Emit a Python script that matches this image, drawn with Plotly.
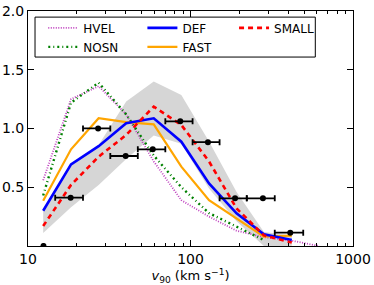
import plotly.graph_objects as go

# model grid (km/s)
v_grid = [12.4, 18.4, 27.2, 40.2, 59.4, 87.8, 130, 192, 283, 420]
v_hvel = [12.4, 18.4, 27.2, 40.2, 59.4, 87.8, 130, 192, 283, 420, 620]

hvel = [0.56, 1.25, 1.36, 1.12, 0.72, 0.39, 0.25, 0.13, 0.075, 0.045, 0.0]
nosn = [0.43, 1.22, 1.39, 1.12, 0.77, 0.50, 0.28, 0.165, 0.05]
def_ = [0.30, 0.695, 0.85, 1.044, 1.087, 0.888, 0.533, 0.278, 0.10, 0.051]
fast = [0.386, 0.823, 1.087, 1.055, 1.035, 0.675, 0.39, 0.236, 0.08, 0.088]
small = [0.17, 0.52, 0.76, 0.945, 1.186, 1.03, 0.72, 0.32, 0.09, 0.03]

band_upper = [0.30, 0.69, 0.86, 1.23, 1.40, 1.285, 0.89, 0.46, 0.12, 0.09]
band_lower = [0.11, 0.33, 0.52, 0.74, 0.94, 0.87, 0.49, 0.21, 0.0, 0.0]

# observations (first point sits on the axis, drawn without bar)
obs_v = [12.45, 18.3, 27.0, 39.9, 58.6, 86.5, 128, 188, 279, 411]
obs_y = [0.0, 0.411, 1.001, 0.766, 0.823, 1.061, 0.884, 0.406, 0.406, 0.113]
obs_lo = [12.45, 14.7, 21.8, 32.1, 47.4, 70.0, 103, 151, 222, 330]
obs_hi = [12.45, 21.8, 32.1, 47.4, 70.0, 103, 151, 222, 330, 494]

x_ticks = [10, 100, 1000]
x_ticklabels = ["10", "100", "1000"]
y_ticks = [0.5, 1.0, 1.5, 2.0]
y_ticklabels = ["0.5", "1.0", "1.5", "2.0"]

fig = go.Figure()

# shaded band
fig.add_trace(go.Scatter(
    x=v_grid + v_grid[::-1],
    y=band_upper + band_lower[::-1],
    fill="toself", fillcolor="rgb(214,214,214)",
    line=dict(width=0), mode="lines",
    showlegend=False, hoverinfo="skip"))

fig.add_trace(go.Scatter(x=v_hvel, y=hvel, mode="lines", name="HVEL", legend="legend",
                         line=dict(color="#bf40bf", width=1.8, dash="1px,1.5px")))
fig.add_trace(go.Scatter(x=v_grid[:len(nosn)], y=nosn, mode="lines", name="NOSN",
                         legend="legend",
                         line=dict(color="#008000", width=2.4, dash="2px,3px,1px,3px")))
fig.add_trace(go.Scatter(x=v_grid, y=fast, mode="lines", name="FAST", legend="legend2",
                         line=dict(color="#ffa500", width=2.2)))
fig.add_trace(go.Scatter(x=v_grid, y=def_, mode="lines", name="DEF", legend="legend2",
                         line=dict(color="#0000ff", width=2.6)))
fig.add_trace(go.Scatter(x=v_grid, y=small, mode="lines", name="SMALL", legend="legend3",
                         line=dict(color="#ff0000", width=2.6, dash="5px,4px")))

# observational points with horizontal error bars
fig.add_trace(go.Scatter(
    x=obs_v, y=obs_y, mode="markers", showlegend=False,
    marker=dict(color="black", size=6),
    error_x=dict(type="data", symmetric=False,
                 array=[h - v for h, v in zip(obs_hi, obs_v)],
                 arrayminus=[v - l for l, v in zip(obs_lo, obs_v)],
                 color="black", thickness=1.8, width=3)))

font = dict(family="DejaVu Sans", size=14, color="black")

# legend frame drawn as a shape so its size can match the reference
fig.add_shape(type="rect", xref="paper", yref="paper",
              x0=0.0216, x1=0.884, y0=0.804, y1=0.974,
              line=dict(color="black", width=1), fillcolor="white",
              layer="above")

leg_common = dict(
    orientation="v", y=0.99, xanchor="left", yanchor="top",
    borderwidth=0, bgcolor="rgba(0,0,0,0)",
    font=dict(family="DejaVu Sans", size=12, color="black"),
    itemwidth=30, tracegroupgap=0,
)

fig.update_layout(
    width=374, height=285,
    margin=dict(l=28, r=21, t=11, b=39),
    paper_bgcolor="white", plot_bgcolor="white",
    font=font,
    showlegend=True,
    legend=dict(x=0.047, traceorder="normal", **leg_common),
    legend2=dict(x=0.352, traceorder="reversed", **leg_common),
    legend3=dict(x=0.634, traceorder="normal", **leg_common),
    xaxis=dict(
        type="log", range=[1, 3], automargin=False,
        tickvals=x_ticks, ticktext=x_ticklabels,
        ticks="inside", ticklen=6, tickwidth=1, tickcolor="black",
        showline=True, linecolor="black", linewidth=1, mirror="allticks",
        showgrid=False, zeroline=False,
        minor=dict(ticks="inside", ticklen=3, tickcolor="black",
                   tickvals=[20, 30, 40, 50, 60, 70, 80, 90,
                             200, 300, 400, 500, 600, 700, 800, 900],
                   showgrid=False),
        title=dict(text="<i>v</i><sub>90</sub> (km s<sup>−1</sup>)",
                   font=dict(family="DejaVu Sans", size=13), standoff=0),
        tickfont=font,
    ),
    yaxis=dict(
        range=[0, 2], automargin=False,
        tickvals=y_ticks, ticktext=y_ticklabels,
        ticks="inside", ticklen=6, tickwidth=1, tickcolor="black",
        showline=True, linecolor="black", linewidth=1, mirror="allticks",
        showgrid=False, zeroline=False,
        tickfont=font,
    ),
)

fig.write_html("out.html", config={"displayModeBar": False},
               post_script="document.body.style.margin='0';")
